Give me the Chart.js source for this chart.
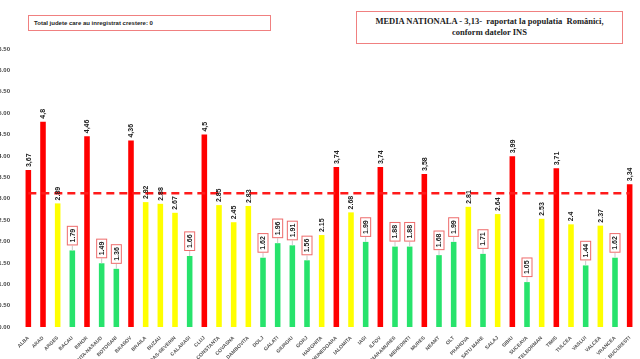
<!DOCTYPE html>
<html><head><meta charset="utf-8">
<script src="https://cdn.jsdelivr.net/npm/chart.js@4.4.0/dist/chart.umd.min.js"></script>
<style>
html,body{margin:0;padding:0;background:#fff;overflow:hidden;width:640px;height:359px;}
#wrap{position:absolute;left:0;top:0;width:640px;height:359px;}
.box{position:absolute;border:1px solid #f08080;background:#fff;box-sizing:border-box;}
#b1{left:28px;top:15px;width:243px;height:16px;font:bold 6px "Liberation Sans",Arial,sans-serif;color:#222;padding:4px 0 0 5px;}
#b2{left:356px;top:11px;width:267px;height:33px;font:bold 8.5px "Liberation Serif","Times New Roman",serif;color:#222;text-align:center;padding-top:4px;line-height:11px;}
</style></head>
<body>
<div id="wrap"><canvas id="c" width="640" height="359"></canvas></div>
<div class="box" id="b1">Total judete care au inregistrat crestere: 0</div>
<div class="box" id="b2">MEDIA NATIONALA - 3,13-&nbsp; raportat la populatia&nbsp; Românici,<br>conform datelor INS</div>
<script>
const counties = ["ALBA","ARAD","ARGES","BACAU","BIHOR","BISTRITA-NASAUD","BOTOSANI","BRASOV","BRAILA","BUZAU","CARAS-SEVERIN","CALARASI","CLUJ","CONSTANTA","COVASNA","DAMBOVITA","DOLJ","GALATI","GIURGIU","GORJ","HARGHITA","HUNEDOARA","IALOMITA","IASI","ILFOV","MARAMURES","MEHEDINTI","MURES","NEAMT","OLT","PRAHOVA","SATU MARE","SALAJ","SIBIU","SUCEAVA","TELEORMAN","TIMIS","TULCEA","VASLUI","VALCEA","VRANCEA","MUN. BUCURESTI"];
const rates = [3.67,4.8,2.89,1.79,4.46,1.49,1.36,4.36,2.92,2.88,2.67,1.66,4.5,2.85,2.45,2.83,1.62,1.96,1.91,1.56,2.15,3.74,2.68,1.99,3.74,1.88,1.88,3.58,1.68,1.99,2.81,1.71,2.64,3.99,1.05,2.53,3.71,2.4,1.44,2.37,1.62,3.34];
const nationalAverage = 3.13;
const yTicks = [0,0.5,1,1.5,2,2.5,3,3.5,4,4.5,5,5.5,6,6.5];

const RED='#ff0000', YEL='#ffff00', GRN='#27e36c';
const level = v => v > nationalAverage ? 'r' : (v >= 2 ? 'y' : 'g');
const colors = rates.map(v => ({r:RED,y:YEL,g:GRN})[level(v)]);

const labelPlugin = {
  id:'vlabels',
  afterDatasetsDraw(chart){
    const ctx = chart.ctx;
    const meta = chart.getDatasetMeta(0);
    ctx.save();
    meta.data.forEach((bar,i)=>{
      const v = rates[i];
      const lv = level(v);
      const txt = lv==='r' ? String(v).replace('.',',') : String(v);
      ctx.font = 'bold 7px "Liberation Sans", Arial, sans-serif';
      const w = ctx.measureText(txt).width;
      if(lv==='g'){
        const gap = 5;
        const bl = w + 6;
        const bottom = bar.y - gap;
        ctx.strokeStyle = '#c8c8c8'; ctx.lineWidth = 1;
        ctx.beginPath(); ctx.moveTo(bar.x, bar.y); ctx.lineTo(bar.x, bottom); ctx.stroke();
        ctx.fillStyle = '#fff';
        ctx.fillRect(bar.x-5.5, bottom-bl, 11, bl);
        ctx.strokeStyle = '#ee6b6b';
        ctx.strokeRect(bar.x-5.5+0.5, bottom-bl+0.5, 10, bl-1);
        ctx.save();
        ctx.translate(bar.x, bottom-3);
        ctx.rotate(-Math.PI/2);
        ctx.fillStyle='#222'; ctx.textAlign='left'; ctx.textBaseline='middle';
        ctx.fillText(txt,0,0.5);
        ctx.restore();
      } else {
        ctx.save();
        ctx.translate(bar.x, bar.y-3);
        ctx.rotate(-Math.PI/2);
        ctx.fillStyle='#222'; ctx.textAlign='left'; ctx.textBaseline='middle';
        ctx.fillText(txt,0,0.5);
        ctx.restore();
      }
    });
    ctx.restore();
  }
};

new Chart(document.getElementById('c'),{
  data:{
    labels:counties,
    datasets:[
      {type:'bar',data:rates,backgroundColor:colors,categoryPercentage:1,barPercentage:0.38,order:2},
      {type:'line',data:counties.map(()=>nationalAverage),borderColor:'#ff1a1a',borderWidth:2.5,borderDash:[8,5],pointRadius:0,fill:false,order:1}
    ]
  },
  options:{
    responsive:false,animation:false,
    layout:{padding:{top:49,right:3,left:0,bottom:0}},
    plugins:{legend:{display:false},tooltip:{enabled:false}},
    scales:{
      x:{
        grid:{display:false},border:{display:false},
        ticks:{autoSkip:false,maxRotation:45,minRotation:45,padding:0,color:'#555',font:{size:5,weight:'bold',family:'"Liberation Sans", Arial, sans-serif'}},
        afterFit(s){s.height=32;}
      },
      y:{
        min:0,max:6.5,
        grid:{display:false},border:{display:false},
        afterBuildTicks(s){s.ticks=yTicks.map(v=>({value:v}));},
        ticks:{padding:3,color:'#444',callback:v=>Number(v).toFixed(2),font:{size:6,weight:'bold',family:'"Liberation Sans", Arial, sans-serif'}},
        afterFit(s){s.width=21;}
      }
    }
  },
  plugins:[labelPlugin]
});
</script>
</body></html>
